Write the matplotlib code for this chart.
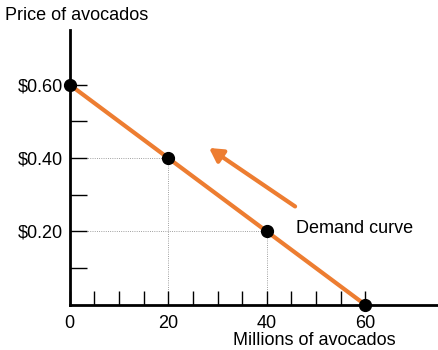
import matplotlib.pyplot as plt

# demand schedule (millions of avocados, price)
quantity = [0, 20, 40, 60]
price = [0.60, 0.40, 0.20, 0.00]
x_labels = ["0", "20", "40", "60"]
y_ticks = [0.20, 0.40, 0.60]
y_labels = ["$0.20", "$0.40", "$0.60"]

orange = "#ED7D31"
plt.rcParams['font.family'] = ['Liberation Sans', 'DejaVu Sans']

fig = plt.figure(figsize=(4.39, 3.5), dpi=100)
ax = fig.add_axes([0.159, 0.129, 0.836, 0.786])
ax.set_xlim(0, 74.5)
ax.set_ylim(0, 0.75)

for s in ["top", "right"]:
    ax.spines[s].set_visible(False)
for s in ["left", "bottom"]:
    ax.spines[s].set_linewidth(2)

# dotted guides for interior points
for q, p in zip(quantity[1:3], price[1:3]):
    ax.plot([0, q], [p, p], color="gray", lw=0.6, ls=":", zorder=1)
    ax.plot([q, q], [0, p], color="gray", lw=0.6, ls=":", zorder=1)

ax.plot(quantity, price, color=orange, lw=3, zorder=2, clip_on=False)
ax.plot(quantity, price, "o", color="black", ms=8.5, zorder=3, clip_on=False)

# arrow showing movement along the curve
ax.annotate("", xy=(27.8, 0.432), xytext=(46.2, 0.264),
            arrowprops=dict(arrowstyle="-|>,head_length=0.8,head_width=0.45",
                            color=orange, lw=3))
ax.text(46.0, 0.207, "Demand curve", fontsize=13, va="center", ha="left")

# ticks: major labelled, minor inside
ax.set_xticks(range(5, 65, 5), minor=True)
ax.set_xticks(quantity)
ax.set_xticklabels(x_labels, fontsize=13)
ax.tick_params(axis="x", which="major", direction="in", length=10, width=1, pad=7)
ax.tick_params(axis="x", which="minor", direction="in", length=10, width=1)

ax.set_yticks([0.1, 0.3, 0.5], minor=True)
ax.set_yticks(y_ticks)
ax.set_yticklabels(y_labels, fontsize=13)
ax.tick_params(axis="y", which="both", direction="in", length=12, width=1, pad=5)

fig.text(0.011, 0.955, "Price of avocados", fontsize=13, va="center", ha="left")
ax.set_xlabel("Millions of avocados", fontsize=13)
ax.xaxis.set_label_coords(0.665, -0.1)

fig.savefig("out.png", dpi=100)
